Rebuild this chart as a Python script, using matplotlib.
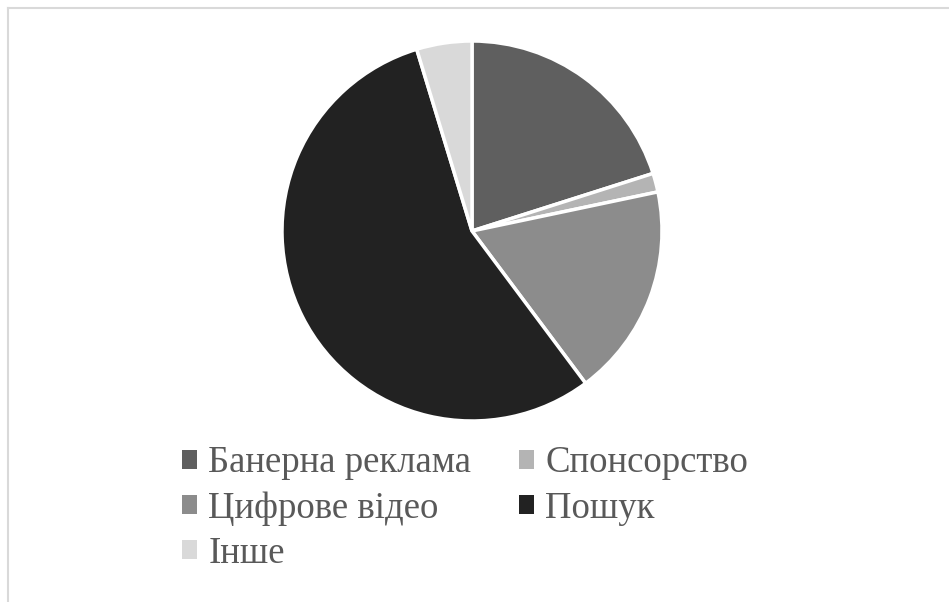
import matplotlib.pyplot as plt
from matplotlib.lines import Line2D
from matplotlib.patches import Patch

categories = ['Банерна реклама', 'Спонсорство', 'Цифрове відео', 'Пошук', 'Інше']
values = [20.1, 1.6, 18.1, 55.5, 4.7]
colors = ['#5f5f5f', '#b4b4b4', '#8c8c8c', '#222222', '#d9d9d9']

fig = plt.figure(figsize=(9.49, 6.02), dpi=100)
ax = fig.add_axes([282 / 949, 181 / 602, 380 / 949, 380 / 602])
ax.pie(values, colors=colors, startangle=90, counterclock=False,
       wedgeprops=dict(edgecolor='white', linewidth=2.5))
ax.set_xlim(-1, 1)
ax.set_ylim(-1, 1)
ax.set_aspect('equal')

# frame lines (top and left only)
fig.add_artist(Line2D([8 / 949, 1], [1 - 8 / 602, 1 - 8 / 602], color='#d9d9d9', lw=1.5))
fig.add_artist(Line2D([8 / 949, 8 / 949], [0, 1 - 8 / 602], color='#d9d9d9', lw=1.5))

# legend fills columns first, reorder so rows read like the original
order = [0, 2, 4, 1, 3]
handles = [Patch(facecolor=colors[i], edgecolor='none') for i in order]
labels = [categories[i] for i in order]
leg = fig.legend(handles, labels, ncol=2, loc='upper left',
                 bbox_to_anchor=(182 / 949, 1 - 446 / 602), frameon=False,
                 fontsize=26.5, handlelength=0.41, handleheight=0.41,
                 borderpad=0, borderaxespad=0,
                 handletextpad=0.3, columnspacing=1.3, labelspacing=0.29)
for t in leg.get_texts():
    t.set_fontfamily('Liberation Serif')
    t.set_color('#595959')

fig.savefig('out.png', dpi=100)
